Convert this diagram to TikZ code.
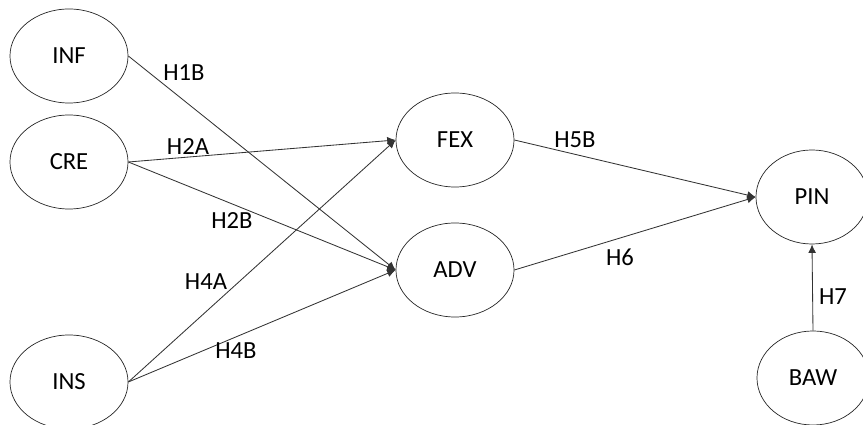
\documentclass[tikz,border=0pt]{standalone}
\usepackage{fontspec}
\setmainfont{Carlito}
\usetikzlibrary{shapes.geometric,arrows.meta}

\begin{document}
\begin{tikzpicture}[x=0.025cm,y=-0.025cm,
		font=\fontsize{17.5}{21}\selectfont,
		var/.style={draw=black!85,ellipse,line width=0.5pt,minimum width=2.95cm,minimum height=2.35cm},
		hyp/.style={inner sep=1pt},
		path/.style={draw=black!80,line width=0.6pt,-{Latex[length=6pt,width=5.5pt]}}]
	\useasboundingbox (0,0) rectangle (863,425);

	\node[var] (INF) at (69,56) {INF};
	\node[var] (CRE) at (69,162) {CRE};
	\node[var] (INS) at (69,382) {INS};
	\node[var] (FEX) at (455,140) {FEX};
	\node[var] (ADV) at (455,270) {ADV};
	\node[var,minimum width=2.8cm] (PIN) at (812,197) {PIN};
	\node[var,minimum width=2.8cm] (BAW) at (813,378) {BAW};

	\foreach \a/\b in {INF/ADV,CRE/FEX,CRE/ADV,INS/FEX,INS/ADV,FEX/PIN,ADV/PIN} {
			\draw[path] (\a.east) -- (\b.west);
		}
	\draw[path] (BAW.north) -- (PIN.south);

	\node[hyp] (h1b) at (184,73) {H1B};
	\node[hyp] (h2a) at (188,147) {H2A};
	\node[hyp] (h2b) at (232,221) {H2B};
	\node[hyp] (h4a) at (206,282) {H4A};
	\node[hyp] (h4b) at (236,351) {H4B};
	\node[hyp] (h5b) at (575,140) {H5B};
	\node[hyp] (h6) at (620,257) {H6};
	\node[hyp] (h7) at (833,297) {H7};
\end{tikzpicture}
\end{document}
